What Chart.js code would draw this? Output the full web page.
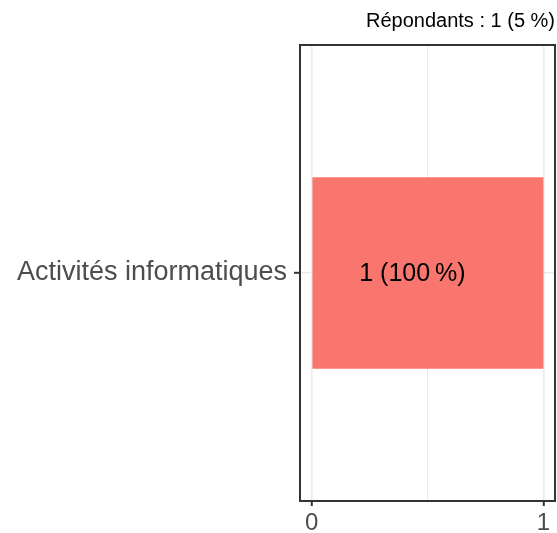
<!DOCTYPE html>
<html>
<head>
<meta charset="utf-8">
<script src="https://cdn.jsdelivr.net/npm/chart.js@4/dist/chart.umd.min.js"></script>
<style>
  html, body { margin: 0; padding: 0; background: #fff; }
  #wrap { width: 557px; height: 533px; position: relative; }
</style>
</head>
<body>
<div id="wrap"><canvas id="chart" width="557" height="533"></canvas></div>
<script>
(function() {
  'use strict';

  // Data
  var categories = ['Activités informatiques'];
  var counts = [1];
  var shares = [100];
  var xTicks = [0, 1];
  var titleText = 'Répondants : 1 (5 %)';

  var FONT = "'Liberation Sans', Arial, sans-serif";
  var GRID = '#EBEBEB';
  var INK = '#333333';

  // Panel border + title + bar labels
  var decor = {
    id: 'decor',
    afterDraw: function(chart) {
      var ctx = chart.ctx;
      var a = chart.chartArea;
      ctx.save();
      ctx.strokeStyle = INK;
      ctx.lineWidth = 2;
      ctx.strokeRect(a.left, a.top, a.right - a.left, a.bottom - a.top);

      ctx.fillStyle = '#000';
      ctx.font = '20px ' + FONT;
      ctx.textAlign = 'right';
      ctx.textBaseline = 'alphabetic';
      ctx.fillText(titleText, 555, 27);

      var xs = chart.scales.x;
      var meta = chart.getDatasetMeta(0);
      ctx.font = '25px ' + FONT;
      ctx.textAlign = 'center';
      ctx.textBaseline = 'middle';
      meta.data.forEach(function(bar, i) {
        var px = xs.getPixelForValue(counts[i] * 0.435);
        ctx.fillText(counts[i] + ' (' + shares[i] + '\u202f%)', px, bar.y + 1);
      });
      ctx.restore();
    }
  };

  new Chart(document.getElementById('chart'), {
    type: 'bar',
    data: {
      labels: categories,
      datasets: [{
        data: counts,
        backgroundColor: '#F8766D',
        borderWidth: 0,
        categoryPercentage: 1,
        barPercentage: 0.42
      }]
    },
    options: {
      indexAxis: 'y',
      responsive: false,
      animation: false,
      layout: { padding: { top: 45, right: 2, bottom: 0, left: 0 } },
      plugins: { legend: { display: false }, title: { display: false }, tooltip: { enabled: false } },
      scales: {
        x: {
          type: 'linear',
          min: -0.05,
          max: 1.05,
          afterBuildTicks: function(s) {
            s.ticks = [0, 0.5, 1].map(function(v) { return { value: v }; });
          },
          afterFit: function(s) { s.height = 32; },
          border: { display: false },
          grid: {
            color: GRID,
            lineWidth: function(c) { return c.tick && c.tick.value === 0.5 ? 1 : 1.6; },
            tickColor: function(c) { return c.tick && xTicks.indexOf(c.tick.value) >= 0 ? INK : 'rgba(0,0,0,0)'; },
            tickLength: 5,
            tickWidth: 2
          },
          ticks: {
            color: '#4D4D4D',
            font: { family: FONT, size: 24 },
            padding: 3,
            maxRotation: 0,
            callback: function(v) { return xTicks.indexOf(v) >= 0 ? String(v) : ''; }
          }
        },
        y: {
          type: 'category',
          offset: true,
          afterFit: function(s) { s.width = 300; },
          border: { display: false },
          grid: {
            offset: false,
            color: GRID,
            lineWidth: 1.6,
            tickColor: INK,
            tickLength: 6,
            tickWidth: 2
          },
          ticks: {
            color: '#4D4D4D',
            font: { family: FONT, size: 27 },
            padding: 7
          }
        }
      }
    },
    plugins: [decor]
  });
})();
</script>
</body>
</html>
